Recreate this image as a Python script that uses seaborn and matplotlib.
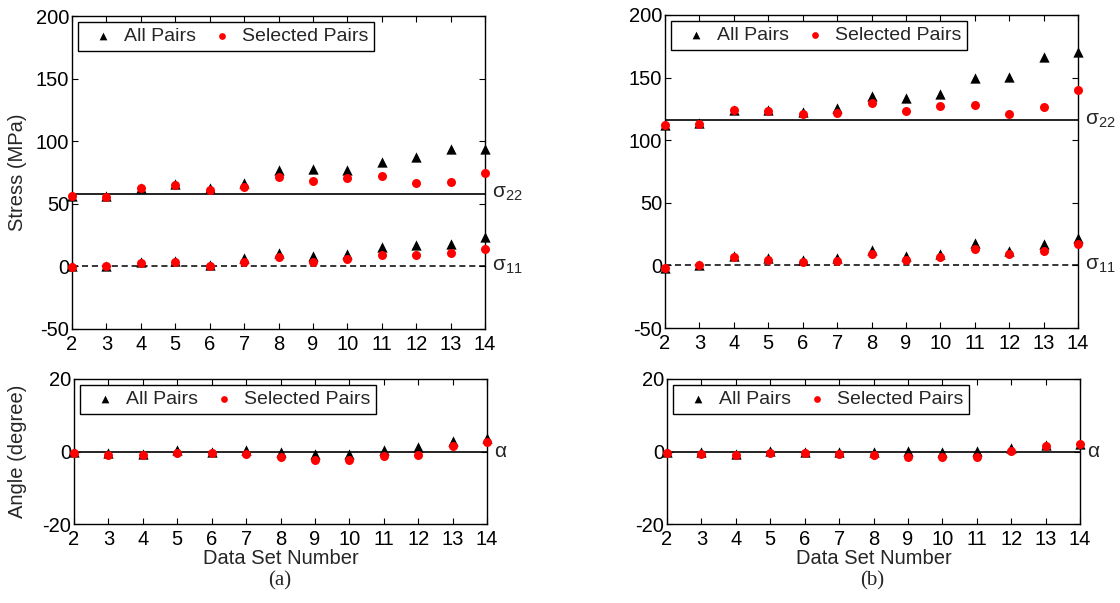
import matplotlib

matplotlib.use("Agg")
import matplotlib.pyplot as plt
import pandas as pd
import seaborn as sns

# data
data_sets = list(range(2, 15))

s22_all_a = [56, 56.6, 62.8, 66, 62.8, 66.8, 76.9, 77.5, 76.7, 83.6, 87.6, 93.5, 94]
s22_sel_a = [56.1, 55.8, 62.5, 65.2, 60.9, 63.8, 71.3, 68.1, 70.8, 72.1, 66.8, 67.6, 74.3]
s11_all_a = [0, 0, 3.5, 4, 0.8, 6.7, 10.7, 8, 9.9, 15.2, 17.1, 18.2, 23.2]
s11_sel_a = [-0.3, 0, 2.9, 3.2, 0.3, 3.7, 7.2, 3.7, 6.1, 9.1, 9.1, 10.4, 13.9]

s22_all_b = [112, 114, 124.2, 124.2, 122.9, 125.5, 135.7, 133.5, 136.8, 149.8, 150.4, 166.7, 170.7]
s22_sel_b = [111.9, 113.2, 124.2, 123.7, 121, 122, 129.5, 123.7, 127.7, 128.5, 121, 126.3, 140]
s11_all_b = [-1.9, 0, 7.5, 6.1, 4.5, 6.1, 12, 7.5, 9.3, 17.9, 11.5, 16.8, 22.2]
s11_sel_b = [-1.9, 0.3, 6.7, 4, 2.7, 3.2, 9.3, 4, 6.7, 12.8, 9.3, 11.5, 17.4]

ang_all_a = [0, -0.5, -0.7, 0.3, 0, 0.5, -0.2, -0.7, -0.8, 0.3, 1.3, 3, 3.7]
ang_sel_a = [-0.4, -1, -1, -0.5, -0.5, -0.8, -1.4, -2.3, -2.3, -1.2, -1.1, 1.4, 2.7]
ang_all_b = [0, -0.2, -0.8, 0.2, -0.2, 0, 0, 0.2, -0.2, 0.2, 1, 1.9, 2.1]
ang_sel_b = [-0.3, -0.6, -1.1, -0.4, -0.5, -0.6, -1.1, -1.4, -1.6, -1.4, 0.2, 1.5, 2.1]

ref_s22_a = 58
ref_s22_b = 116
ref_s11 = 0
ref_alpha = 0

sns.set_style("ticks")
plt.rcParams["font.family"] = ["Liberation Sans", "DejaVu Sans"]
plt.rcParams["mathtext.default"] = "regular"
plt.rcParams["axes.unicode_minus"] = False
plt.rcParams["axes.linewidth"] = 1.0
FS = 14.5
LEG_FS = 14


def long_frame(all_lists, sel_lists):
    rows = []
    for vals in all_lists:
        rows += [("All Pairs", x, v) for x, v in zip(data_sets, vals)]
    for vals in sel_lists:
        rows += [("Selected Pairs", x, v) for x, v in zip(data_sets, vals)]
    return pd.DataFrame(rows, columns=["pairs", "set", "value"])


def draw_panel(ax, df, ylim, yticks):
    sub = df[df["pairs"] == "All Pairs"]
    sns.scatterplot(data=sub, x="set", y="value", marker="^", color="black",
                    s=55, linewidth=0, label="All Pairs", clip_on=False, zorder=3, ax=ax)
    sub = df[df["pairs"] == "Selected Pairs"]
    sns.scatterplot(data=sub, x="set", y="value", marker="o", color="red",
                    s=42, linewidth=0, label="Selected Pairs", clip_on=False, zorder=4, ax=ax)
    ax.set_xlim(2, 14)
    ax.set_ylim(*ylim)
    ax.set_xticks(data_sets)
    ax.set_yticks(yticks)
    ax.set_xlabel("")
    ax.set_ylabel("")
    ax.tick_params(direction="in", top=True, right=True, length=4, width=0.8,
                   labelsize=FS, colors="black")
    ax.tick_params(axis="x", pad=4)
    ax.tick_params(axis="y", pad=2)
    for sp in ax.spines.values():
        sp.set_visible(True)
        sp.set_color("black")
    leg = ax.legend(loc="upper left", ncol=2, fontsize=LEG_FS, frameon=True, fancybox=False,
                    edgecolor="black", framealpha=1, borderaxespad=0.3, borderpad=0.3,
                    handlelength=2.0, handletextpad=0.05, columnspacing=0.35,
                    markerscale=0.75)
    leg.get_frame().set_linewidth(1.0)


def right_label(ax, y, text):
    ax.annotate(text, xy=(1, y), xycoords=("axes fraction", "data"), xytext=(5, 0),
                textcoords="offset points", va="center", ha="left", fontsize=FS + 0.5)


fig = plt.figure(figsize=(11.2, 6.03), dpi=100)
W, H = 1120, 603


def add_axes(left, top, right, bottom):
    return fig.add_axes([left / W, 1 - bottom / H, (right - left) / W, (bottom - top) / H])


ax_ta = add_axes(72, 16, 485, 329)
ax_ba = add_axes(74, 379, 487, 524)
ax_tb = add_axes(665, 15, 1078, 328)
ax_bb = add_axes(667, 379, 1080, 524)

stress = [
    (ax_ta, s22_all_a, s22_sel_a, s11_all_a, s11_sel_a, ref_s22_a),
    (ax_tb, s22_all_b, s22_sel_b, s11_all_b, s11_sel_b, ref_s22_b),
]
for ax, a22, p22, a11, p11, ref22 in stress:
    ax.axhline(ref22, color="black", lw=1.2, zorder=2)
    ax.axhline(ref_s11, color="black", lw=1.1, ls=(0, (4, 2.5)), zorder=2)
    draw_panel(ax, long_frame([a22, a11], [p22, p11]), (-50, 200), range(-50, 201, 50))
    right_label(ax, ref22, r"$\sigma_{22}$")
    right_label(ax, ref_s11, r"$\sigma_{11}$")

angle = [(ax_ba, ang_all_a, ang_sel_a), (ax_bb, ang_all_b, ang_sel_b)]
for ax, a_all, a_sel in angle:
    ax.axhline(ref_alpha, color="black", lw=1.2, zorder=2)
    draw_panel(ax, long_frame([a_all], [a_sel]), (-20, 20), range(-20, 21, 20))
    right_label(ax, ref_alpha, r"$\alpha$")
    ax.set_xlabel("Data Set Number", fontsize=FS, labelpad=0)

ax_ta.set_ylabel("Stress (MPa)", fontsize=FS)
ax_ba.set_ylabel("Angle (degree)", fontsize=FS)
ax_ta.yaxis.set_label_coords(-0.108, 0.5)
ax_ba.yaxis.set_label_coords(-0.113, 0.5)

fig.text(280 / W, 1 - 581 / H, "(a)", ha="center", va="center", fontsize=15,
         family=["Liberation Serif", "DejaVu Serif"])
fig.text(872 / W, 1 - 581 / H, "(b)", ha="center", va="center", fontsize=15,
         family=["Liberation Serif", "DejaVu Serif"])

fig.savefig("out.png", dpi=100)
